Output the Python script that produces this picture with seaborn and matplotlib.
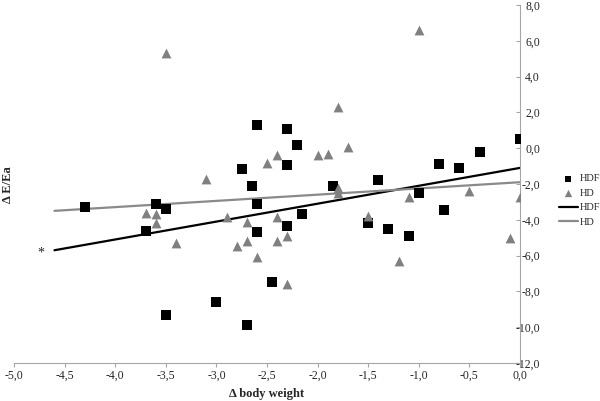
import numpy as np
import pandas as pd
import seaborn as sns
import matplotlib
matplotlib.use("Agg")
import matplotlib.pyplot as plt
from matplotlib.ticker import FuncFormatter, MultipleLocator

# HDF group (squares)
hdf_x = [-4.3, -3.7, -3.6, -3.5, -3.5, -3.0, -2.7, -2.45, -2.6, -2.3, -2.2, -2.75, -2.3, -2.65, -1.85,
         -2.6, -2.15, -2.3, -2.6, -1.4, -0.8, -0.6, -0.4, 0.0, -1.0, -0.75, -1.5, -1.3, -1.1]
hdf_y = [-3.3, -4.6, -3.1, -3.4, -9.3, -8.6, -9.9, -7.5, 1.3, 1.05, 0.2, -1.15, -0.95, -2.1, -2.1,
         -3.1, -3.7, -4.35, -4.7, -1.8, -0.9, -1.1, -0.2, 0.5, -2.5, -3.45, -4.2, -4.5, -4.9]

# HD group (triangles)
hd_x = [-3.5, -1.0, -1.8, -1.7, -2.0, -1.9, -2.4, -2.5, -3.1, -1.8, -1.8, -3.7, -3.6, -3.6, -2.9,
        -2.7, -2.4, -3.4, -2.8, -2.7, -2.4, -2.3, -2.6, -2.3, -1.1, -0.5, 0.0, -1.5, -0.1, -1.2]
hd_y = [5.3, 6.6, 2.3, 0.05, -0.4, -0.3, -0.4, -0.8, -1.7, -2.25, -2.5, -3.6, -3.7, -4.2, -3.85,
        -4.1, -3.85, -5.3, -5.45, -5.2, -5.2, -4.9, -6.1, -7.6, -2.7, -2.4, -2.7, -3.8, -5.0, -6.3]

# linear trend lines (end points)
trend_x = [-4.6, 0.0]
hdf_trend = [-5.7, -1.1]
hd_trend = [-3.5, -1.9]

sns.set_style("white")
plt.rcParams["font.family"] = ["Liberation Serif", "DejaVu Serif"]

pts = pd.concat([
    pd.DataFrame({"x": hdf_x, "y": hdf_y, "group": "HDF"}),
    pd.DataFrame({"x": hd_x, "y": hd_y, "group": "HD"}),
])
trends = pd.concat([
    pd.DataFrame({"x": trend_x, "y": hdf_trend, "group": "HDF"}),
    pd.DataFrame({"x": trend_x, "y": hd_trend, "group": "HD"}),
])

fig = plt.figure(figsize=(6, 4.01), dpi=100)
ax = fig.add_axes([14 / 600, 38 / 401, 506 / 600, 358 / 401])

sns.scatterplot(data=pts[pts.group == "HDF"], x="x", y="y", marker="s", color="black",
                s=42, edgecolor="black", linewidth=0, label="HDF", ax=ax, zorder=3)
sns.scatterplot(data=pts[pts.group == "HD"], x="x", y="y", marker="^", color="#808080",
                s=50, edgecolor="#808080", linewidth=0, label="HD", ax=ax, zorder=3)
sns.lineplot(data=trends[trends.group == "HDF"], x="x", y="y", color="black",
             linewidth=1.6, label="HDF", ax=ax, zorder=2)
sns.lineplot(data=trends[trends.group == "HD"], x="x", y="y", color="#8a8a8a",
             linewidth=1.6, label="HD", ax=ax, zorder=2)

ax.text(-4.73, -5.85, "*", fontsize=10, ha="center", va="center")

ax.set_xlim(-5, 0)
ax.set_ylim(-12, 8)
ax.xaxis.set_major_locator(MultipleLocator(0.5))
ax.yaxis.set_major_locator(MultipleLocator(2))
fmt = FuncFormatter(lambda v, p: f"{v:.1f}".replace(".", ","))
ax.xaxis.set_major_formatter(fmt)
ax.yaxis.set_major_formatter(fmt)
ax.yaxis.tick_right()

for side in ["left", "top"]:
    ax.spines[side].set_visible(False)
for side in ["right", "bottom"]:
    ax.spines[side].set_color("#a6a6a6")
    ax.spines[side].set_linewidth(0.8)

ax.tick_params(axis="x", direction="out", length=3, color="#a6a6a6", labelsize=8.5, pad=2, bottom=True)
ax.tick_params(axis="y", direction="in", length=3, color="#a6a6a6", labelsize=8.5, pad=14.4,
               right=True, left=False)
for lab in ax.get_yticklabels():
    lab.set_horizontalalignment("right")

ax.set_xlabel("Δ body weight", fontsize=9, fontweight="bold", labelpad=4)
ax.set_ylabel("")
fig.text(8 / 600, 1 - 185 / 401, "Δ E/Ea", rotation=90, fontsize=9, fontweight="bold",
         ha="center", va="center")

leg = ax.legend(loc="center left", bbox_to_anchor=(1.077, 0.454), frameon=False, fontsize=7.5,
                handlelength=1.8, handletextpad=0.2, labelspacing=0.5, borderpad=0,
                borderaxespad=0, markerscale=0.75)

fig.savefig("out.png", dpi=100)
